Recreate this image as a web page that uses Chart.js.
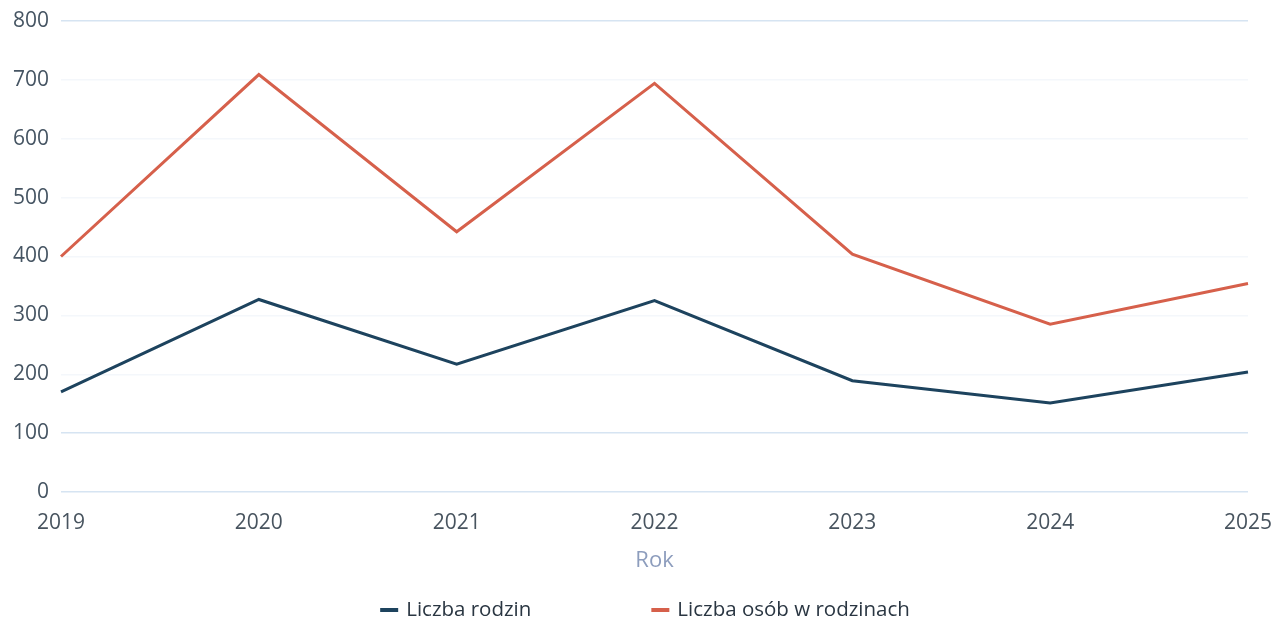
<!DOCTYPE html>
<html lang="pl">
<head>
    <meta charset="UTF-8">
    <title>Liczba rodzin i osób w rodzinach</title>
    <script src="https://cdn.jsdelivr.net/npm/chart.js"></script>
    <style>
        body { margin: 0; background: #fff; }
        canvas { display: block; }
    </style>
</head>
<body>
    <canvas id="rodzinyChart" width="1276" height="621"></canvas>

    <script>
        // dane
        const lata = ['2019', '2020', '2021', '2022', '2023', '2024', '2025'];
        const liczbaRodzin = [170, 327, 217, 325, 189, 151, 204];
        const liczbaOsob = [400, 709, 442, 694, 404, 285, 354];

        const FONT = '"Open Sans", "Noto Sans", sans-serif';

        // legenda rysowana recznie, bo w Chart.js odstep miedzy pozycjami = padding
        const bottomLegend = {
            id: 'bottomLegend',
            afterDraw(chart) {
                const ctx = chart.ctx;
                const sets = chart.data.datasets;
                ctx.save();
                ctx.font = '20.5px ' + FONT;
                ctx.textBaseline = 'middle';
                const widths = sets.map(ds => 18 + 8 + ctx.measureText(ds.label).width);
                const gap = 120;
                const total = widths.reduce((a, b) => a + b, 0) + gap * (sets.length - 1);
                let x = 645 - total / 2;
                const y = 610;
                sets.forEach((ds, i) => {
                    ctx.fillStyle = ds.borderColor;
                    ctx.fillRect(x, y - 2, 18, 4);
                    ctx.fillStyle = '#2a3642';
                    ctx.fillText(ds.label, x + 26, y);
                    x += widths[i] + gap;
                });
                ctx.restore();
            }
        };

        new Chart(document.getElementById('rodzinyChart'), {
            type: 'line',
            data: {
                labels: lata,
                datasets: [{
                    label: 'Liczba rodzin',
                    data: liczbaRodzin,
                    borderColor: '#1d435e',
                    borderWidth: 3,
                    pointRadius: 0,
                    tension: 0
                }, {
                    label: 'Liczba osób w rodzinach',
                    data: liczbaOsob,
                    borderColor: '#d6604b',
                    borderWidth: 3,
                    pointRadius: 0,
                    tension: 0
                }]
            },
            options: {
                responsive: false,
                animation: false,
                layout: { padding: { top: 21, right: 28, bottom: 47, left: 0 } },
                plugins: {
                    legend: { display: false },
                    tooltip: { enabled: false }
                },
                scales: {
                    x: {
                        offset: false,
                        grid: { display: false, drawTicks: false },
                        border: { display: false },
                        ticks: {
                            padding: 18,
                            maxRotation: 0,
                            color: '#48545f',
                            font: { family: FONT, size: 21 }
                        },
                        title: {
                            display: true,
                            text: 'Rok',
                            color: '#8d9dbd',
                            padding: { top: 0, bottom: 0 },
                            font: { family: FONT, size: 22 }
                        },
                        afterFit: s => {
                            s.height = 82;
                            s.paddingLeft = 0;
                            s.paddingRight = 0;
                        }
                    },
                    y: {
                        min: 0,
                        max: 800,
                        grid: {
                            drawTicks: false,
                            color: ctx => [0, 100, 800].includes(ctx.tick.value) ? '#d6e4f2' : '#f4f7fb',
                            lineWidth: 1.5
                        },
                        border: { display: false },
                        ticks: {
                            stepSize: 100,
                            padding: 12,
                            color: '#465563',
                            font: { family: FONT, size: 21 }
                        },
                        afterFit: s => {
                            s.width = 61;
                            s.paddingTop = 0;
                            s.paddingBottom = 0;
                        }
                    }
                }
            },
            plugins: [bottomLegend]
        });
    </script>
</body>
</html>
